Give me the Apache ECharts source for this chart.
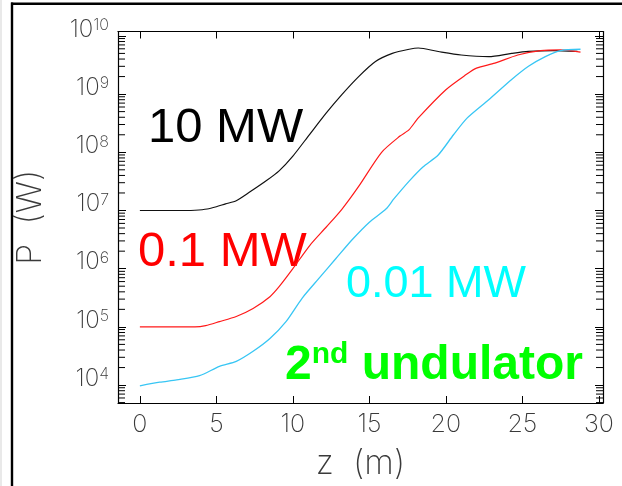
<!DOCTYPE html>
<html>
<head>
<meta charset="utf-8">
<script src="https://cdn.jsdelivr.net/npm/echarts@6/dist/echarts.min.js"></script>
<style>
  html, body { margin: 0; padding: 0; background: #fff; }
  #chart { width: 622px; height: 486px; }
</style>
</head>
<body>
<div id="chart"></div>
<script>
// Power growth along the undulator for three seed powers (z in m, P in W)
const z10MW = [0, 1, 2, 3, 3.6, 4.4, 5, 5.6, 6.3, 7.2, 8.3, 9.1, 10, 11.1, 12.2, 13.2, 14.3, 15.4, 16.5, 17.6, 18.2, 19.5, 21, 22.8, 24.3, 25.4, 27, 28.6];
const p10MW = [1.0e7, 1.0e7, 1.0e7, 1.0e7, 1.01e7, 1.06e7, 1.16e7, 1.3e7, 1.47e7, 2.09e7, 3.3e7, 4.8e7, 8.6e7, 2.04e8, 4.8e8, 9.8e8, 2.0e9, 3.63e9, 5.0e9, 5.9e9, 6.2e9, 5.4e9, 4.7e9, 4.4e9, 5.0e9, 5.4e9, 5.6e9, 5.4e9];

const z01MW = [0, 1, 2, 3, 3.6, 4.3, 5.2, 6.3, 7.4, 8.5, 9.1, 10, 11.1, 12.2, 13.2, 14.3, 15.8, 17.0, 17.6, 18.2, 20, 21.3, 22, 23.2, 24.7, 26.2, 27.5, 28.8];
const p01MW = [1.0e5, 1.0e5, 1.0e5, 1.0e5, 1.0e5, 1.05e5, 1.23e5, 1.51e5, 2.07e5, 3.3e5, 4.9e5, 1.0e6, 2.5e6, 5.25e6, 1.05e7, 2.6e7, 1.0e8, 1.9e8, 2.45e8, 3.9e8, 1.19e9, 2.14e9, 2.8e9, 3.4e9, 4.7e9, 5.6e9, 5.75e9, 5.25e9];

const z001MW = [0, 1.3, 2.4, 3.9, 5.2, 6.3, 7.4, 8.5, 9.55, 10.6, 11.7, 12.8, 13.9, 15, 16.1, 16.6, 17.6, 18.5, 19.5, 20.5, 21.4, 22.8, 24.3, 25.4, 26.5, 27.5, 28.8];
const p001MW = [9.7e3, 1.12e4, 1.23e4, 1.45e4, 2.1e4, 2.55e4, 3.8e4, 6.3e4, 1.23e5, 3.1e5, 6.8e5, 1.48e6, 3.2e6, 6.3e6, 1.07e7, 1.58e7, 3.2e7, 5.6e7, 9.0e7, 2.0e8, 3.9e8, 8.0e8, 1.78e9, 3.0e9, 4.4e9, 5.6e9, 5.9e9];

// Axis ranges
const X_MIN = -1.43, X_MAX = 30.27;
const Y_MIN = 4.92e3, Y_MAX = 1.19e10;

// Minor log ticks: 2..9 times each decade inside the y range
const decades = [1e3, 1e4, 1e5, 1e6, 1e7, 1e8, 1e9, 1e10];
const mantissas = [2, 3, 4, 5, 6, 7, 8, 9];
const minorTicks = [];
decades.forEach(d => mantissas.forEach(m => {
  const v = d * m;
  if (v > Y_MIN && v < Y_MAX) minorTicks.push(v);
}));

const pairs = (xs, ys) => xs.map((x, i) => [x, ys[i]]);

const tickFont = "Inter, 'DejaVu Sans', sans-serif";
const tickColor = '#3a3a3a';

const chart = echarts.init(document.getElementById('chart'), null, { renderer: 'canvas' });

const logAxisBase = {
  type: 'log',
  logBase: 10,
  min: Y_MIN,
  max: Y_MAX,
  splitLine: { show: false },
  axisLine: { show: true, onZero: false, lineStyle: { color: '#000', width: 1.2 } },
  axisTick: { show: true, inside: true, length: 8, lineStyle: { color: '#000', width: 1 } }
};

const xAxisBase = {
  type: 'value',
  min: X_MIN,
  max: X_MAX,
  splitNumber: 6,
  splitLine: { show: false },
  axisLine: { show: true, onZero: false, lineStyle: { color: '#000', width: 1.2 } },
  axisTick: { show: true, inside: true, length: 7, lineStyle: { color: '#000', width: 1 } }
};

chart.setOption({
  animation: false,
  backgroundColor: '#fff',
  grid: { left: 118, right: 19, top: 31.5, bottom: 81, containLabel: false },
  xAxis: [
    Object.assign({}, xAxisBase, {
      position: 'bottom',
      name: 'z  (m)',
      nameLocation: 'middle',
      nameGap: 44,
      nameTextStyle: { fontFamily: tickFont, fontWeight: 200, fontSize: 34, color: tickColor },
      axisLabel: {
        show: true, margin: 9, showMinLabel: false, showMaxLabel: false,
        fontFamily: tickFont, fontWeight: 200, fontSize: 25, color: tickColor
      }
    }),
    Object.assign({}, xAxisBase, { position: 'top', axisLabel: { show: false } })
  ],
  yAxis: [
    Object.assign({}, logAxisBase, {
      position: 'left',
      name: 'P  (W)',
      nameLocation: 'middle',
      nameGap: 70,
      nameRotate: 90,
      nameTextStyle: { fontFamily: tickFont, fontWeight: 200, fontSize: 34, color: tickColor },
      axisLabel: {
        show: true, margin: 9, showMinLabel: false, showMaxLabel: false,
        padding: [0, 0, 13, 0],
        formatter: v => '10{e|' + Math.round(Math.log10(v)) + '}',
        rich: {
          e: { fontFamily: tickFont, fontWeight: 200, fontSize: 16, color: tickColor, verticalAlign: 'top', lineHeight: 16 }
        },
        fontFamily: tickFont, fontWeight: 200, fontSize: 24, color: tickColor
      }
    }),
    Object.assign({}, logAxisBase, { position: 'right', axisLabel: { show: false } })
  ],
  series: [
    {
      type: 'custom',
      xAxisIndex: 0, yAxisIndex: 0,
      silent: true,
      data: minorTicks.map(v => [X_MIN, v]),
      renderItem: (params, api) => {
        const v = api.value(1);
        const l = api.coord([X_MIN, v]);
        const r = api.coord([X_MAX, v]);
        const st = { stroke: '#000', lineWidth: 1 };
        return {
          type: 'group',
          children: [
            { type: 'line', shape: { x1: l[0], y1: l[1], x2: l[0] + 7, y2: l[1] }, style: st },
            { type: 'line', shape: { x1: r[0] - 7, y1: r[1], x2: r[0], y2: r[1] }, style: st }
          ]
        };
      },
      z: 1
    },
    {
      name: '10 MW', type: 'line', data: pairs(z10MW, p10MW),
      showSymbol: false, smooth: 0.25,
      lineStyle: { color: '#111', width: 1.2 }, z: 3
    },
    {
      name: '0.1 MW', type: 'line', data: pairs(z01MW, p01MW),
      showSymbol: false, smooth: 0.25,
      lineStyle: { color: '#ff1a1a', width: 1.2 }, z: 3
    },
    {
      name: '0.01 MW', type: 'line', data: pairs(z001MW, p001MW),
      showSymbol: false, smooth: 0.25,
      lineStyle: { color: '#38c6f4', width: 1.3 }, z: 3
    }
  ],
  graphic: [
    // page frame
    { type: 'rect', shape: { x: 0, y: 0, width: 2, height: 486 }, style: { fill: '#e9e9e9' }, silent: true },
    { type: 'rect', shape: { x: 11, y: 2.5, width: 611, height: 2.5 }, style: { fill: '#000' }, silent: true },
    { type: 'rect', shape: { x: 10.8, y: 2.5, width: 2.4, height: 484 }, style: { fill: '#000' }, silent: true },
    // curve annotations
    {
      type: 'text', left: 148, top: 104, silent: true,
      style: { text: '10 MW', fontFamily: "'Liberation Sans', Arial, sans-serif", fontSize: 49, fill: '#000' }
    },
    {
      type: 'text', left: 138, top: 228, silent: true,
      style: { text: '0.1 MW', fontFamily: "'Liberation Sans', Arial, sans-serif", fontSize: 49, fill: '#ff0000' }
    },
    {
      type: 'text', left: 346, top: 262, silent: true,
      style: { text: '0.01 MW', fontFamily: "'Liberation Sans', Arial, sans-serif", fontSize: 45, fill: '#00ffff' }
    },
    {
      type: 'text', left: 285, top: 340, silent: true,
      style: {
        text: '2{s|nd} undulator',
        fontFamily: "'Liberation Sans', Arial, sans-serif", fontWeight: 'bold', fontSize: 48, fill: '#00ff00',
        lineHeight: 52,
        rich: {
          s: { fontFamily: "'Liberation Sans', Arial, sans-serif", fontWeight: 'bold', fontSize: 30, fill: '#00ff00', verticalAlign: 'top', lineHeight: 30 }
        }
      }
    }
  ]
});
</script>
</body>
</html>
